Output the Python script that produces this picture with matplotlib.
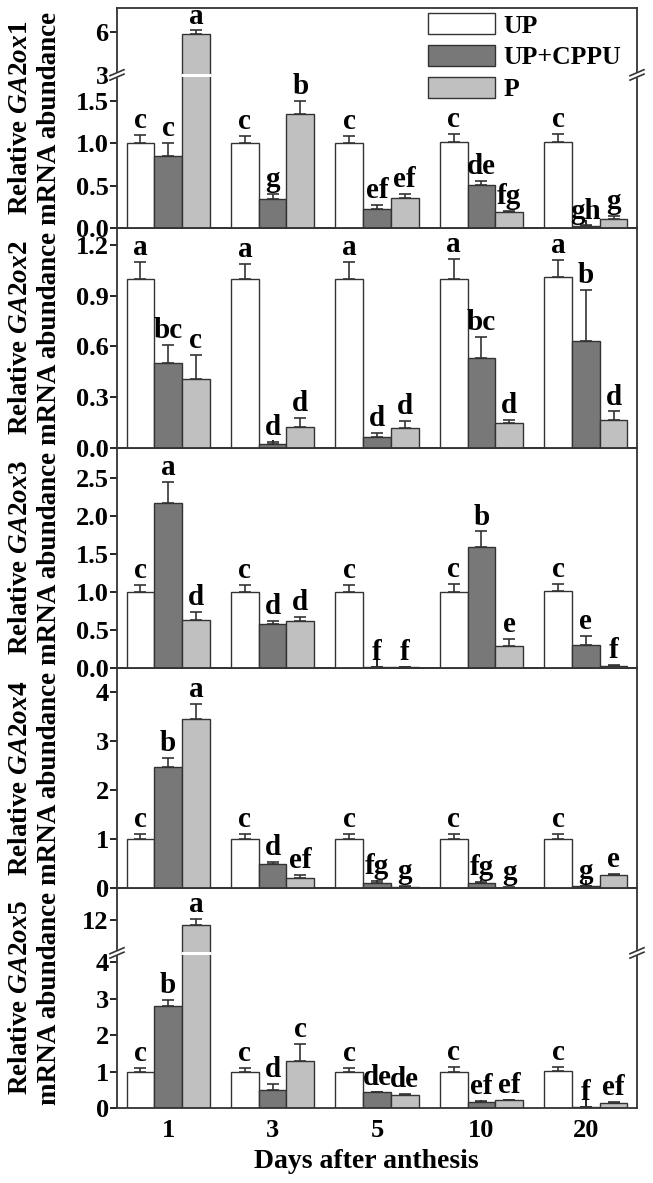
import numpy as np
import matplotlib

matplotlib.use("Agg")
import matplotlib.pyplot as plt
from matplotlib.lines import Line2D
from matplotlib.patches import Patch
from matplotlib.transforms import IdentityTransform

plt.rcParams["font.family"] = ["Liberation Serif", "DejaVu Serif"]
plt.rcParams["font.weight"] = "bold"
plt.rcParams["mathtext.fontset"] = "custom"
plt.rcParams["mathtext.it"] = "Liberation Serif:italic:bold"
plt.rcParams["mathtext.rm"] = "Liberation Serif:bold"
plt.rcParams["mathtext.bf"] = "Liberation Serif:bold"

days = ["1", "3", "5", "10", "20"]
treatments = ["UP", "UP+CPPU", "P"]
genes = ["GA2ox1", "GA2ox2", "GA2ox3", "GA2ox4", "GA2ox5"]

# GA2ox1
ox1_up = [1.00, 1.00, 1.00, 1.01, 1.01]
ox1_up_err = [0.10, 0.09, 0.09, 0.10, 0.10]
ox1_cppu = [0.85, 0.34, 0.22, 0.51, 0.02]
ox1_cppu_err = [0.15, 0.06, 0.05, 0.05, 0.01]
ox1_p = [5.85, 1.35, 0.35, 0.19, 0.11]
ox1_p_err = [0.25, 0.15, 0.05, 0.01, 0.03]
ox1_letters = [["c", "c", "c", "c", "c"], ["c", "g", "ef", "de", "gh"], ["a", "b", "ef", "fg", "g"]]

# GA2ox2
ox2_up = [1.00, 1.00, 1.00, 1.00, 1.01]
ox2_up_err = [0.10, 0.09, 0.10, 0.115, 0.10]
ox2_cppu = [0.50, 0.024, 0.063, 0.53, 0.633]
ox2_cppu_err = [0.11, 0.009, 0.026, 0.125, 0.30]
ox2_p = [0.41, 0.124, 0.118, 0.15, 0.167]
ox2_p_err = [0.14, 0.056, 0.042, 0.013, 0.049]
ox2_letters = [["a", "a", "a", "a", "a"], ["bc", "d", "d", "bc", "b"], ["c", "d", "d", "d", "d"]]

# GA2ox3
ox3_up = [1.00, 1.00, 1.00, 1.00, 1.01]
ox3_up_err = [0.10, 0.09, 0.10, 0.11, 0.10]
ox3_cppu = [2.18, 0.577, 0.01, 1.59, 0.30]
ox3_cppu_err = [0.27, 0.039, 0.005, 0.21, 0.12]
ox3_p = [0.63, 0.616, 0.01, 0.295, 0.02]
ox3_p_err = [0.11, 0.057, 0.003, 0.092, 0.02]
ox3_letters = [["c", "c", "c", "c", "c"], ["a", "d", "f", "b", "e"], ["d", "d", "f", "e", "f"]]

# GA2ox4
ox4_up = [1.00, 1.00, 1.00, 1.00, 1.01]
ox4_up_err = [0.10, 0.10, 0.10, 0.10, 0.10]
ox4_cppu = [2.47, 0.50, 0.10, 0.10, 0.04]
ox4_cppu_err = [0.19, 0.03, 0.04, 0.02, 0.01]
ox4_p = [3.45, 0.21, 0.03, 0.01, 0.27]
ox4_p_err = [0.31, 0.06, 0.01, 0.005, 0.02]
ox4_letters = [["c", "c", "c", "c", "c"], ["b", "d", "fg", "fg", "g"], ["a", "ef", "g", "g", "e"]]

# GA2ox5
ox5_up = [1.00, 1.00, 1.00, 1.00, 1.01]
ox5_up_err = [0.11, 0.10, 0.11, 0.12, 0.11]
ox5_cppu = [2.79, 0.50, 0.43, 0.16, 0.02]
ox5_cppu_err = [0.18, 0.17, 0.02, 0.03, 0.01]
ox5_p = [11.7, 1.28, 0.37, 0.21, 0.14]
ox5_p_err = [0.40, 0.47, 0.01, 0.02, 0.02]
ox5_letters = [["c", "c", "c", "c", "c"], ["b", "d", "de", "ef", "f"], ["a", "c", "de", "ef", "ef"]]

panels = [
    ([ox1_up, ox1_cppu, ox1_p], [ox1_up_err, ox1_cppu_err, ox1_p_err], ox1_letters),
    ([ox2_up, ox2_cppu, ox2_p], [ox2_up_err, ox2_cppu_err, ox2_p_err], ox2_letters),
    ([ox3_up, ox3_cppu, ox3_p], [ox3_up_err, ox3_cppu_err, ox3_p_err], ox3_letters),
    ([ox4_up, ox4_cppu, ox4_p], [ox4_up_err, ox4_cppu_err, ox4_p_err], ox4_letters),
    ([ox5_up, ox5_cppu, ox5_p], [ox5_up_err, ox5_cppu_err, ox5_p_err], ox5_letters),
]

# axis settings: ylim, ticks, tick labels, broken-axis (break value, upper start, ratio)
y_limits = [(0, 7.67), (0, 1.3), (0, 2.9), (0, 4.5), (0, 14)]
y_ticks = [[0, 0.5, 1.0, 1.5, 3, 6], [0, 0.3, 0.6, 0.9, 1.2], [0, 0.5, 1.0, 1.5, 2.0, 2.5],
           [0, 1, 2, 3, 4], [0, 1, 2, 3, 4, 12]]
y_ticklabels = [["0.0", "0.5", "1.0", "1.5", "3", "6"], ["0.0", "0.3", "0.6", "0.9", "1.2"],
                ["0.0", "0.5", "1.0", "1.5", "2.0", "2.5"], ["0", "1", "2", "3", "4"],
                ["0", "1", "2", "3", "4", "12"]]
breaks = [(1.806, 3.0, 0.169), None, None, None, (4.26, 10.0, 0.446)]

colors = ["white", "#787878", "#c0c0c0"]
edge = "#333333"
bar_width = 0.265


def broken_scale(b, u0, r):
    def forward(y):
        y = np.asarray(y, dtype=float)
        return np.where(y <= b, y, b + (y - u0) * r)

    def inverse(t):
        t = np.asarray(t, dtype=float)
        return np.where(t <= b, t, u0 + (t - b) / r)

    return forward, inverse


W, H = 653, 1183
fig = plt.figure(figsize=(W / 100, H / 100), dpi=100)
left_px, right_px, top_px, panel_px = 117, 637, 8, 220
x = np.arange(len(days))
axes = []

for i, (means, errs, letters) in enumerate(panels):
    top = top_px + panel_px * i
    ax = fig.add_axes([left_px / W, 1 - (top + panel_px) / H, (right_px - left_px) / W, panel_px / H])
    axes.append(ax)
    if breaks[i]:
        ax.set_yscale("function", functions=broken_scale(*breaks[i]))
    for k in range(3):
        xs = x + (k - 1) * bar_width
        ax.bar(xs, means[k], bar_width, color=colors[k], edgecolor=edge, linewidth=1.0, zorder=2)
        ax.errorbar(xs, means[k], yerr=[np.zeros(len(days)), errs[k]], fmt="none",
                    ecolor=edge, elinewidth=1.2, capsize=4, capthick=1.2, zorder=3)
        for j in range(len(days)):
            ax.annotate(letters[k][j], (xs[j], means[k][j] + errs[k][j]), xytext=(0, 5),
                        textcoords="offset points", ha="center", va="baseline",
                        fontsize=21, fontweight="bold")
        if breaks[i]:
            b = breaks[i][0]
            for j in range(len(days)):
                if means[k][j] > b:
                    ax.hlines(b, xs[j] - bar_width / 2 - 0.01, xs[j] + bar_width / 2 + 0.01,
                              color="white", linewidth=2.2, zorder=4)
    ax.set_xlim(-0.49, 4.49)
    ax.set_ylim(*y_limits[i])
    ax.set_yticks(y_ticks[i])
    ax.set_yticklabels(y_ticklabels[i])
    ax.set_xticks(x)
    ax.set_xticklabels(days if i == len(panels) - 1 else [])
    ax.tick_params(axis="y", direction="out", length=5, width=1.2, pad=1, labelsize=19)
    ax.tick_params(axis="x", direction="in", length=6, width=1.2, pad=8, labelsize=19)
    for sp in ax.spines.values():
        sp.set_linewidth(1.3)
        sp.set_color(edge)
    ax.set_zorder(len(panels) - i)
    ax.patch.set_alpha(0)

    cy = 1 - (top + panel_px / 2) / H
    fig.text(21 / W, cy, "Relative $\\mathit{" + genes[i] + "}$", rotation=90,
             ha="center", va="center", fontsize=19.5, fontweight="bold")
    fig.text(50 / W, cy, "mRNA abundance", rotation=90, ha="center", va="center",
             fontsize=19.5, fontweight="bold")

# break marks on both side spines
for i, ax in enumerate(axes):
    if not breaks[i]:
        continue
    b = breaks[i][0]
    for xa in (0, 1):
        px, py = ax.get_yaxis_transform().transform((xa, b))
        fig.add_artist(Line2D([px - 7, px + 7], [py - 2.5, py + 2.5], color="white",
                              linewidth=4, transform=IdentityTransform(), zorder=10))
        for off in (-2.2, 2.2):
            fig.add_artist(Line2D([px - 7, px + 7], [py - 3 + off, py + 3 + off], color=edge,
                                  linewidth=1.2, transform=IdentityTransform(), zorder=11))

handles = [Patch(facecolor=c, edgecolor=edge, linewidth=1.0) for c in colors]
axes[0].legend(handles, treatments, loc="upper left", bbox_to_anchor=(0.598, 0.975),
               frameon=False, fontsize=18.5, handlelength=2.6, handleheight=0.85,
               handletextpad=0.35, labelspacing=0.3, borderpad=0, borderaxespad=0)

fig.text(366 / W, 1 - 1162 / H, "Days after anthesis", ha="center", va="center",
         fontsize=20, fontweight="bold")

fig.savefig("out.png", dpi=100)
